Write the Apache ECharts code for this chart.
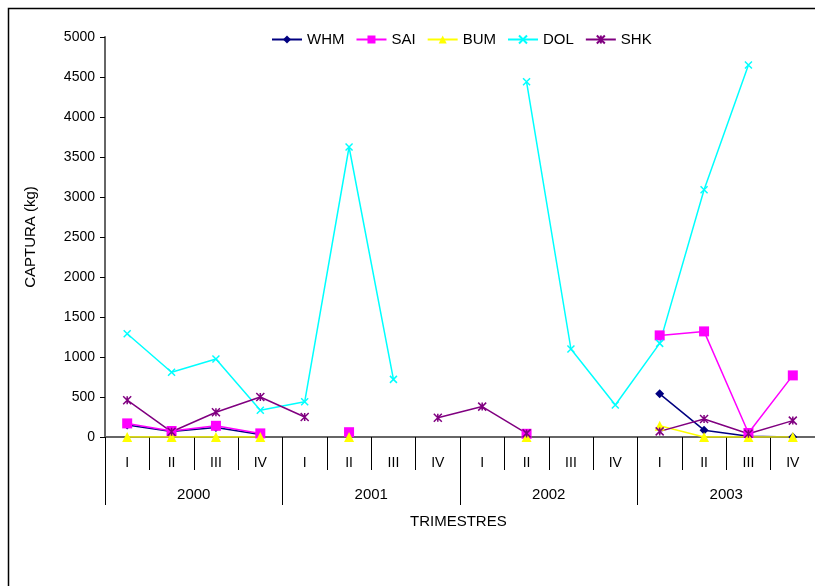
<!DOCTYPE html>
<html>
<head>
<meta charset="utf-8">
<script src="https://cdn.jsdelivr.net/npm/echarts@6/dist/echarts.min.js"></script>
<style>
  html, body { margin: 0; padding: 0; background: #fff; }
  #chart { width: 815px; height: 586px; }
</style>
</head>
<body>
<div id="chart"></div>
<script>
// trimestres y años
var quarters = ['I', 'II', 'III', 'IV', 'I', 'II', 'III', 'IV', 'I', 'II', 'III', 'IV', 'I', 'II', 'III', 'IV'];
var years = ['2000', '2001', '2002', '2003'];

// captura (kg) por trimestre
var WHM = [150, 70, 120, 30, null, 50, null, null, null, 30, null, null, 540, 85, 10, 0];
var SAI = [170, 75, 140, 45, null, 60, null, null, null, 40, null, null, 1270, 1320, 50, 770];
var BUM = [0, 0, 0, 0, null, 0, null, null, null, 0, null, null, 140, 0, 0, 0];
var DOL = [1290, 810, 975, 335, 440, 3625, 720, null, null, 4440, 1100, 400, 1170, 3090, 4650, null];
var SHK = [460, 65, 310, 500, 250, null, null, 240, 380, 45, null, null, 70, 225, 40, 205];

var font = 'Arial, "Liberation Sans", sans-serif';

var myChart = echarts.init(document.getElementById('chart'));

function serie(name, data, color, symbol, size, stroke) {
  return {
    name: name,
    type: 'line',
    data: data,
    symbol: symbol,
    symbolSize: size,
    showAllSymbol: true,
    lineStyle: { color: color, width: 1.5 },
    itemStyle: stroke
      ? { color: 'none', borderColor: color, borderWidth: 1.5 }
      : { color: color, borderWidth: 0 },
    emphasis: { disabled: true },
    animation: false
  };
}

myChart.setOption({
  backgroundColor: '#fff',
  textStyle: { fontFamily: font },
  graphic: [{
    type: 'rect',
    shape: { x: 8.5, y: 8.5, width: 900, height: 700 },
    style: { fill: 'none', stroke: '#000', lineWidth: 1.5 },
    silent: true
  }, {
    type: 'text',
    left: 410,
    top: 514,
    style: { text: 'TRIMESTRES', fontSize: 15, fontFamily: font, fill: '#000' }
  }],
  legend: {
    left: 266,
    top: 27,
    itemWidth: 30,
    itemHeight: 10,
    itemGap: 11,
    textStyle: { fontSize: 15, color: '#000', fontFamily: font },
    data: ['WHM', 'SAI', 'BUM', 'DOL', 'SHK']
  },
  grid: { left: 105, right: 0, top: 37, bottom: 149, containLabel: false },
  xAxis: [{
    type: 'category',
    data: quarters,
    boundaryGap: true,
    axisLine: { lineStyle: { color: '#666', width: 2 } },
    axisTick: { show: true, interval: 0, length: 33, lineStyle: { color: '#000', width: 1 } },
    axisLabel: { interval: 0, margin: 19, color: '#000', fontSize: 14, fontFamily: font }
  }, {
    type: 'category',
    data: years,
    position: 'bottom',
    boundaryGap: true,
    axisLine: { show: false },
    axisTick: { show: true, interval: 0, length: 68, lineStyle: { color: '#000', width: 1 } },
    axisLabel: { interval: 0, margin: 50, color: '#000', fontSize: 15, fontFamily: font }
  }],
  yAxis: {
    type: 'value',
    min: 0,
    max: 5000,
    interval: 500,
    name: 'CAPTURA (kg)',
    nameLocation: 'middle',
    nameGap: 67,
    nameTextStyle: { fontSize: 15, color: '#000', fontFamily: font },
    splitLine: { show: false },
    axisLine: { show: true, lineStyle: { color: '#666', width: 2 } },
    axisTick: { show: true, length: 5, lineStyle: { color: '#000' } },
    axisLabel: {
      color: '#000', fontSize: 14, margin: 10, fontFamily: font,
      formatter: function (v) { return String(v); }
    }
  },
  series: [
    serie('WHM', WHM, '#000080', 'diamond', 9, false),
    serie('SAI', SAI, '#FF00FF', 'rect', 10, false),
    serie('BUM', BUM, '#FFFF00', 'triangle', 10, false),
    serie('DOL', DOL, '#00FFFF', 'path://M0,0L10,10M10,0L0,10', 7, true),
    serie('SHK', SHK, '#800080', 'path://M0,0L10,10M10,0L0,10M5,0L5,10', 8, true)
  ]
});
</script>
</body>
</html>
